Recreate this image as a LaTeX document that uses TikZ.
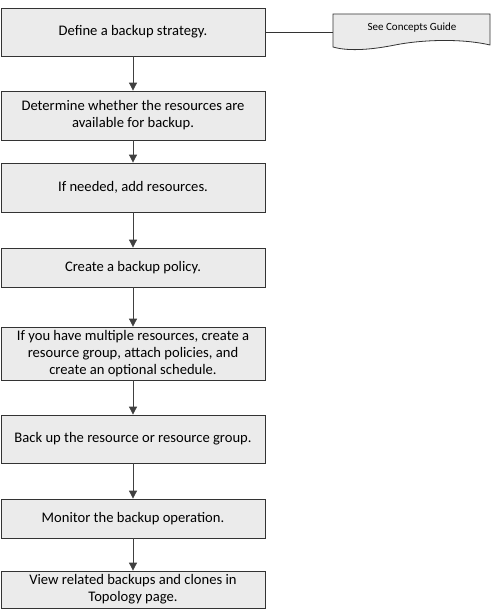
\documentclass[tikz,border=0pt]{standalone}
\usepackage{fontspec}
\setmainfont{Carlito}
\usetikzlibrary{arrows.meta}
\begin{document}
\begin{tikzpicture}[x=1pt,y=-1pt,
    stepbox/.style={draw=black!80,fill=black!8,line width=0.8pt,minimum width=264pt,align=center,inner sep=0pt,font=\fontsize{14.6}{17}\selectfont},
    flow/.style={draw=black!75,line width=0.8pt,-{Triangle[width=8pt,length=8pt]}}]
    \useasboundingbox (0,0) rectangle (495,610);
    \node[stepbox,minimum height=48pt] (define) at (133,32) {Define a backup strategy.};
    \node[stepbox,minimum height=49pt] (check) at (133,115.5) {Determine whether the resources are\\available for backup.};
    \node[stepbox,minimum height=49pt] (add) at (133,187.5) {If needed, add resources.};
    \node[stepbox,minimum height=39pt] (policy) at (133,267.5) {Create a backup policy.};
    \node[stepbox,minimum height=53pt] (group) at (133,353.5) {If you have multiple resources, create a\\resource group, attach policies, and\\create an optional schedule.};
    \node[stepbox,minimum height=48pt] (backup) at (133,439) {Back up the resource or resource group.};
    \node[stepbox,minimum height=39pt] (monitor) at (133,518.5) {Monitor the backup operation.};
    \node[stepbox,minimum height=37pt] (view) at (133,589.5) {View related backups and clones in\\Topology page.};
    % document shape
    \draw[draw=black!80,fill=black!8,line width=0.8pt] (333,14) -- (490,14) -- (490,45)
        .. controls (460,38) and (420,40) .. (395,45)
        .. controls (375,49) and (350,52) .. (333,47) -- cycle;
    \coordinate (guide) at (333,32);
    \node[font=\fontsize{11}{13}\selectfont] (guidetext) at (412,28) {See Concepts Guide};
    \draw[draw=black!80,line width=0.8pt] (define) -- (guide);
    \draw[flow] (define) -- (check);
    \draw[flow] (check) -- (add);
    \draw[flow] (add) -- (policy);
    \draw[flow] (policy) -- (group);
    \draw[flow] (group) -- (backup);
    \draw[flow] (backup) -- (monitor);
    \draw[flow] (monitor) -- (view);
\end{tikzpicture}
\end{document}
